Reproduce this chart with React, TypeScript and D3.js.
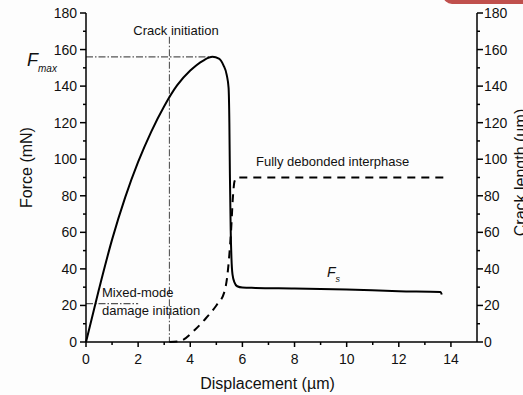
import { useMemo } from "react";
import { curveMonotoneX, line, scaleLinear } from "d3";

const WIDTH = 523;
const HEIGHT = 395;
const FONT = "'Liberation Sans', Arial, sans-serif";

// force-displacement curve (mN vs um)
const forceX = [0, 0.5, 1.0, 1.5, 2.0, 2.5, 3.0, 3.5, 4.0, 4.5, 4.85, 5.1, 5.27, 5.4, 5.47, 5.5, 5.52, 5.55, 5.58, 5.62, 5.7, 5.8, 6.0, 6.5, 8, 10, 12, 13.6, 13.65];
const forceY = [0, 29, 56, 79, 98.5, 115, 129, 140.5, 148.5, 154, 156, 155, 151.5, 146, 139, 120, 92, 62, 46, 37, 32.5, 30.5, 29.8, 29.6, 29.3, 28.7, 27.8, 27.4, 26];

// crack length curve (um vs um)
const crackX = [3.2, 3.6, 4.2, 4.6, 5.0, 5.3, 5.42, 5.5, 5.57, 5.63, 5.7, 5.8, 13.75];
const crackY = [0, 0.5, 7, 13, 20, 27, 36, 48, 62, 78, 88, 90, 90];

const xTicks = [0, 2, 4, 6, 8, 10, 12, 14];
const xMinor = [1, 3, 5, 7, 9, 11, 13];
const yTicks = [0, 20, 40, 60, 80, 100, 120, 140, 160, 180];
const yMinor = [10, 30, 50, 70, 90, 110, 130, 150, 170];

const F_MAX = 156;
const F_MAX_X = 4.83;
const CRACK_INIT_X = 3.2;
const MIXED_MODE_F = 21;
const MIXED_MODE_END_X = 2.0;

export default function App() {
  const x = useMemo(() => scaleLinear().domain([0, 15]).range([86, 477]), []);
  const y = useMemo(() => scaleLinear().domain([0, 180]).range([342, 13]), []);
  const yRight = useMemo(() => scaleLinear().domain([0, 180]).range([342, 13]), []);

  const forcePath = line<number>()
    .x((_, i) => x(forceX[i]))
    .y((d) => y(d))
    .curve(curveMonotoneX)(forceY);
  const crackPath = line<number>()
    .x((_, i) => x(crackX[i]))
    .y((d) => yRight(d))
    .curve(curveMonotoneX)(crackY);

  const [x0, x1] = x.range();
  const [y0, y1] = y.range();
  const dashDot = "7 2 1.5 2";

  return (
    <svg width={WIDTH} height={HEIGHT} style={{ position: "absolute", left: 0, top: 0, display: "block" }} fontFamily={FONT}>
      <rect width={WIDTH} height={HEIGHT} fill="#fdfdfd" />
      <rect x={443} y={-14} width={110} height={18} rx={9} fill="#c0504d" />

      {/* reference lines */}
      <g stroke="#555" strokeWidth={1.1} strokeDasharray={dashDot} fill="none">
        <line x1={x0} x2={x(F_MAX_X)} y1={y(F_MAX)} y2={y(F_MAX)} />
        <line x1={x(CRACK_INIT_X)} x2={x(CRACK_INIT_X)} y1={y(167)} y2={y0} />
        <line x1={x0} x2={x(MIXED_MODE_END_X)} y1={y(MIXED_MODE_F)} y2={y(MIXED_MODE_F)} />
      </g>

      {forcePath ? <path d={forcePath} fill="none" stroke="#000" strokeWidth={2} strokeLinejoin="round" /> : null}
      {crackPath ? <path d={crackPath} fill="none" stroke="#000" strokeWidth={2} strokeDasharray="8 6" /> : null}

      {/* axes */}
      <g stroke="#000" strokeWidth={1.5} fill="none">
        <line x1={x0} x2={x1} y1={y0} y2={y0} />
        <line x1={x0} x2={x0} y1={y0} y2={y1} />
        <line x1={x1} x2={x1} y1={y0} y2={y1} />
        {xTicks.map((t) => <line key={`xt${t}`} x1={x(t)} x2={x(t)} y1={y0} y2={y0 + 5} />)}
        {xMinor.map((t) => <line key={`xm${t}`} x1={x(t)} x2={x(t)} y1={y0} y2={y0 + 3} />)}
        {yTicks.map((t) => <line key={`yt${t}`} x1={x0 - 6} x2={x0} y1={y(t)} y2={y(t)} />)}
        {yMinor.map((t) => <line key={`ym${t}`} x1={x0 - 3} x2={x0} y1={y(t)} y2={y(t)} />)}
        {yTicks.map((t) => <line key={`rt${t}`} x1={x1} x2={x1 + 6} y1={yRight(t)} y2={yRight(t)} />)}
        {yMinor.map((t) => <line key={`rm${t}`} x1={x1} x2={x1 + 3} y1={yRight(t)} y2={yRight(t)} />)}
      </g>

      <g fontSize={14} fill="#111">
        {xTicks.map((t) => (
          <text key={`xl${t}`} x={x(t)} y={y0 + 22} textAnchor="middle">{t}</text>
        ))}
        {yTicks.map((t) => (
          <text key={`yl${t}`} x={x0 - 9} y={y(t) + 5} textAnchor="end">{t}</text>
        ))}
        {yTicks.map((t) => (
          <text key={`rl${t}`} x={x1 + 7} y={yRight(t) + 5} textAnchor="start">{t}</text>
        ))}
      </g>

      <g fontSize={16} fill="#111">
        <text x={(x0 + x1) / 2 - 14} y={389} textAnchor="middle">Displacement (µm)</text>
        <text transform={`translate(32, ${(y0 + y1) / 2 - 10}) rotate(-90)`} textAnchor="middle">Force (mN)</text>
        <text transform={`translate(526, ${(y0 + y1) / 2 - 5}) rotate(-90)`} textAnchor="middle">Crack length (µm)</text>
      </g>

      <g fontSize={13} fill="#111">
        <text x={176} y={35} textAnchor="middle">Crack initiation</text>
        <text x={102} y={297}>Mixed-mode</text>
        <text x={102} y={315}>damage initiation</text>
        <text x={256} y={166}>Fully debonded interphase</text>
      </g>

      <text x={27} y={66} fontSize={18} fontStyle="italic" fill="#111">
        F<tspan fontSize={10} dy={6}>max</tspan>
      </text>
      <text x={327} y={277} fontSize={14} fontStyle="italic" fill="#111">
        F<tspan fontSize={9} dy={5}>s</tspan>
      </text>
    </svg>
  );
}
